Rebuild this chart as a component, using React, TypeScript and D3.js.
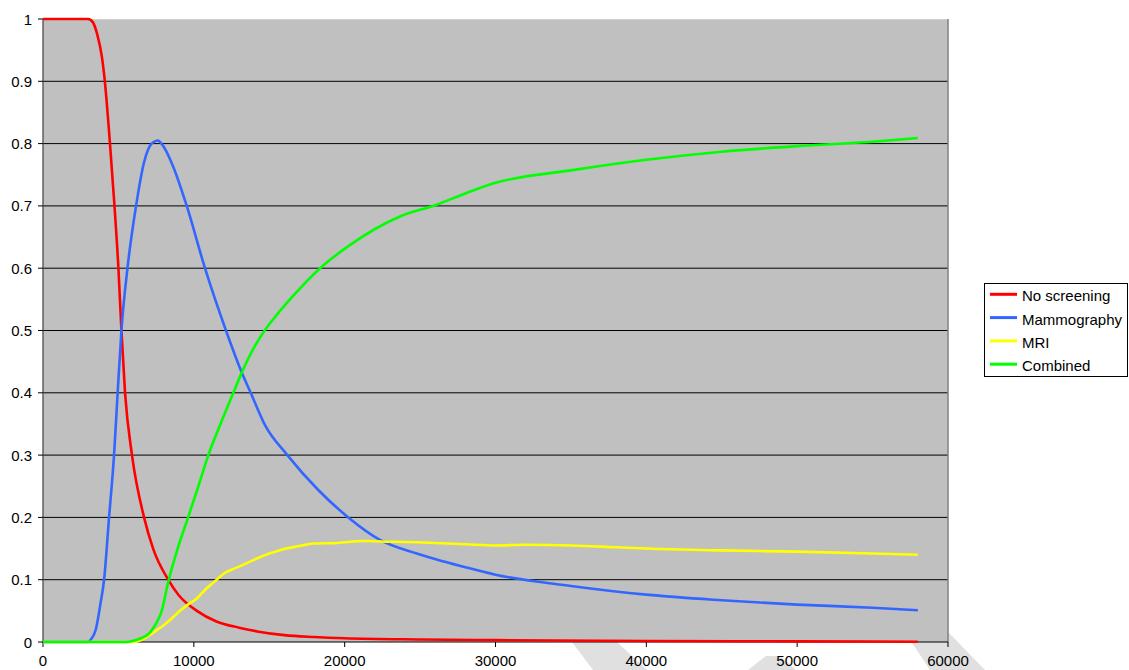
import React from "react";
import * as d3 from "d3";

const xTicks = [0, 10000, 20000, 30000, 40000, 50000, 60000];
const yTicks = [0, 0.1, 0.2, 0.3, 0.4, 0.5, 0.6, 0.7, 0.8, 0.9, 1];
const yTickLabels = ["0", "0.1", "0.2", "0.3", "0.4", "0.5", "0.6", "0.7", "0.8", "0.9", "1"];

const noScreening: [number, number][] = [
  [0, 1], [3000, 1], [3300, 0.995], [3600, 0.975], [3900, 0.94], [4100, 0.9], [4440, 0.8],
  [4710, 0.71], [5000, 0.6], [5200, 0.5], [5440, 0.4], [5900, 0.3], [6700, 0.2], [7300, 0.15],
  [8300, 0.1], [9000, 0.075], [10200, 0.05], [11500, 0.033], [13000, 0.023], [14200, 0.017],
  [16000, 0.011], [18000, 0.008], [20000, 0.006], [25000, 0.004], [30000, 0.003],
  [40000, 0.0015], [50000, 0.001], [58000, 0.0005],
];

const mammography: [number, number][] = [
  [0, 0], [3000, 0], [3200, 0.005], [3500, 0.02], [3800, 0.06], [4050, 0.1], [4380, 0.2],
  [4710, 0.3], [4950, 0.4], [5200, 0.5], [5600, 0.6], [6170, 0.7], [6700, 0.77], [7200, 0.8],
  [7600, 0.805], [8000, 0.795], [8600, 0.765], [9530, 0.7], [10740, 0.6],
  [12130, 0.5], [13170, 0.433], [13770, 0.4], [14720, 0.348], [16200, 0.3], [18250, 0.244],
  [20240, 0.2], [22340, 0.164], [24780, 0.142], [28000, 0.12], [30000, 0.108], [35000, 0.09],
  [40000, 0.076], [45000, 0.067], [50000, 0.06], [55000, 0.055], [58000, 0.051],
];

const mri: [number, number][] = [
  [0, 0], [6000, 0], [6500, 0.003], [7000, 0.01], [7540, 0.019], [8000, 0.027], [8500, 0.037],
  [9080, 0.05], [9600, 0.06], [10200, 0.07], [10800, 0.085], [11520, 0.1], [12000, 0.11],
  [12500, 0.116], [13000, 0.121], [14170, 0.134], [15000, 0.142], [15930, 0.149], [17000, 0.154],
  [17920, 0.158], [19500, 0.159], [21240, 0.162], [23000, 0.161], [24780, 0.16], [26000, 0.159],
  [28000, 0.157], [30000, 0.155], [32000, 0.156], [35000, 0.155], [38000, 0.152], [40000, 0.15],
  [45000, 0.147], [50000, 0.145], [55000, 0.142], [58000, 0.14],
];

const combined: [number, number][] = [
  [0, 0], [5500, 0], [6000, 0.002], [6500, 0.006], [7000, 0.013], [7210, 0.019], [7500, 0.03],
  [7870, 0.05], [8290, 0.095], [8900, 0.148], [9620, 0.2], [10300, 0.25], [10960, 0.3],
  [11800, 0.352], [12620, 0.4], [13170, 0.432], [13610, 0.455], [14610, 0.497], [15500, 0.525],
  [16490, 0.553], [18370, 0.6], [20220, 0.635], [23670, 0.683], [26000, 0.701], [28000, 0.72],
  [30000, 0.737], [35000, 0.757], [40000, 0.774], [45000, 0.787], [50000, 0.796], [55000, 0.803],
  [58000, 0.809],
];

const seriesNames = ["No screening", "Mammography", "MRI", "Combined"];
const seriesData = [noScreening, mammography, mri, combined];
const seriesColors = ["#FF0000", "#3366FF", "#FFFF00", "#00FF00"];

export default function App() {
  const W = 1129, H = 670;
  const left = 43, right = 948, top = 19, bottom = 642;
  const x = d3.scaleLinear().domain([0, 60000]).range([left, right]);
  const y = d3.scaleLinear().domain([0, 1]).range([bottom, top]);
  const line = d3.line<[number, number]>().x(d => x(d[0])).y(d => y(d[1])).curve(d3.curveMonotoneX);
  const font = "'Liberation Sans', Arial, sans-serif";
  const fs = 15;

  return (
    <svg width={W} height={H} style={{ position: "absolute", left: 0, top: 0 }}>
      <rect x={0} y={0} width={W} height={H} fill="#fff" />
      {/* light diagonal bands */}
      <polygon points="572,642 617,642 647,670 593,670" fill="#E0E0E0" />
      <polygon points="748,670 766,656 780,656 796,670" fill="#E0E0E0" />
      <polygon points="905,632 948,632 985,670 930,670" fill="#E0E0E0" />
      <rect x={left} y={top} width={right - left} height={bottom - top} fill="#C0C0C0" />
      {yTicks.slice(1, -1).map(t => (
        <line key={t} x1={left} x2={right} y1={y(t)} y2={y(t)} stroke="#000" strokeWidth={1} />
      ))}
      <line x1={left} x2={right} y1={top + 0.5} y2={top + 0.5} stroke="#D0D0D0" strokeWidth={1} />
      <line x1={right} x2={right} y1={top} y2={bottom} stroke="#808080" strokeWidth={1.5} />
      <line x1={left} x2={left} y1={top} y2={bottom} stroke="#404040" strokeWidth={1.2} />
      <line x1={left} x2={right} y1={bottom} y2={bottom} stroke="#000" strokeWidth={1} />
      {yTicks.map((t, i) => (
        <g key={"y" + t}>
          <line x1={left - 5} x2={left} y1={y(t)} y2={y(t)} stroke="#000" />
          <text x={left - 11} y={y(t) + 5.5} textAnchor="end" fontFamily={font} fontSize={fs} fill="#000">
            {yTickLabels[i]}
          </text>
        </g>
      ))}
      {xTicks.map(t => (
        <g key={"x" + t}>
          <line x1={x(t)} x2={x(t)} y1={bottom} y2={bottom + 5} stroke="#000" />
          <text x={x(t)} y={bottom + 24} textAnchor="middle" fontFamily={font} fontSize={fs} fill="#000">
            {t}
          </text>
        </g>
      ))}
      {seriesData.map((d, i) => (
        <path key={seriesNames[i]} d={line(d) || ""} fill="none" stroke={seriesColors[i]} strokeWidth={2.6} strokeLinejoin="round" />
      ))}
      <g>
        <rect x={984.5} y={283.5} width={143} height={93} fill="#fff" stroke="#000" strokeWidth={1} />
        {seriesNames.map((n, i) => (
          <g key={"l" + n}>
            <line x1={990} x2={1017} y1={294.3 + i * 23.3} y2={294.3 + i * 23.3} stroke={seriesColors[i]} strokeWidth={3} />
            <text x={1022} y={294.3 + i * 23.3 + 7} fontFamily={font} fontSize={fs} fill="#000">{n}</text>
          </g>
        ))}
      </g>
    </svg>
  );
}
